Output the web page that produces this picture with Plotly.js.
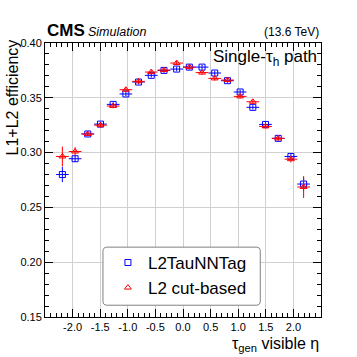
<!DOCTYPE html>
<html>
<head>
<meta charset="utf-8">
<script src="https://cdn.plot.ly/plotly-3.0.1.min.js"></script>
<style>
  body { margin: 0; background: #fff; }
  #plot { width: 357px; height: 357px; }
</style>
</head>
<body>
<div id="plot"></div>
<script>
// tau_gen visible eta bin centres
let eta = [-2.185, -1.955, -1.725, -1.495, -1.265, -1.035, -0.805, -0.575, -0.345, -0.115,
           0.115, 0.345, 0.575, 0.805, 1.035, 1.265, 1.495, 1.725, 1.955, 2.185];
let halfBin = 0.115;

let nnTagEff = [0.280, 0.2944, 0.317, 0.326, 0.344, 0.3535, 0.3644, 0.3705, 0.375, 0.3762,
                0.378, 0.378, 0.3726, 0.3656, 0.3553, 0.3413, 0.3257, 0.313, 0.2965, 0.2713];
let nnTagErr = [0.007, 0.003, 0.002, 0.002, 0.002, 0.002, 0.002, 0.002, 0.002, 0.002,
                0.002, 0.002, 0.002, 0.002, 0.002, 0.002, 0.002, 0.002, 0.003, 0.006];

let cutEff = [0.2965, 0.301, 0.317, 0.325, 0.3425, 0.3574, 0.365, 0.3735, 0.3753, 0.3817,
              0.378, 0.373, 0.3677, 0.3662, 0.3513, 0.3464, 0.3239, 0.313, 0.294, 0.2686];
let cutErr = [0.009, 0.004, 0.002, 0.002, 0.002, 0.002, 0.002, 0.002, 0.002, 0.002,
              0.002, 0.002, 0.002, 0.002, 0.002, 0.002, 0.002, 0.002, 0.003, 0.010];

let xTicks = [-2.0, -1.5, -1.0, -0.5, 0.0, 0.5, 1.0, 1.5, 2.0];
let xTickText = ["-2.0", "-1.5", "-1.0", "-0.5", "0.0", "0.5", "1.0", "1.5", "2.0"];

let font = "Liberation Sans, Arial, Helvetica, sans-serif";

function series(name, y, err, color, symbol) {
    return {
        x: eta, y: y, name: name, type: "scatter", mode: "markers",
        marker: { symbol: symbol, size: 6, color: color, line: { color: color, width: 1 } },
        error_y: { type: "data", array: err, color: color, thickness: 1, width: 0 },
        error_x: { type: "constant", value: halfBin, color: color, thickness: 1, width: 0 }
    };
}

let traces = [
    series("L2TauNNTag", nnTagEff, nnTagErr, "#0000ff", "square-open"),
    series("L2 cut-based", cutEff, cutErr, "#ff0000", "triangle-up-open")
];

let axisCommon = {
    showline: true, linecolor: "#000", linewidth: 1, mirror: "allticks",
    ticks: "inside", ticklen: 8, tickcolor: "#000",
    showgrid: true, gridcolor: "#d0d0d0", gridwidth: 1, zeroline: false,
    tickfont: { family: font, size: 11, color: "#000" }
};

let layout = {
    width: 357, height: 357,
    margin: { l: 45, r: 36, t: 43, b: 40 },
    paper_bgcolor: "#fff", plot_bgcolor: "#fff",
    showlegend: true,
    legend: {
        x: 0.228, y: 0.263, xanchor: "left", yanchor: "top",
        bgcolor: "rgba(0,0,0,0)", borderwidth: 0,
        font: { family: font, size: 17, color: "#000" }
    },
    xaxis: Object.assign({}, axisCommon, {
        range: [-2.5, 2.5], tickmode: "array", tickvals: xTicks, ticktext: xTickText,
        minor: { tickmode: "linear", tick0: 0, dtick: 0.1, ticks: "inside", ticklen: 4, tickcolor: "#000", showgrid: false }
    }),
    yaxis: Object.assign({}, axisCommon, {
        range: [0.15, 0.40], tickmode: "linear", tick0: 0.15, dtick: 0.05, tickformat: ".2f",
        minor: { tickmode: "linear", dtick: 0.01, ticks: "inside", ticklen: 4, tickcolor: "#000", showgrid: false }
    }),
    shapes: [{
        type: "path", xref: "paper", yref: "paper",
        path: "M 0.225 0.255 L 0.765 0.255 Q 0.78 0.255 0.78 0.24 L 0.78 0.058 Q 0.78 0.043 0.765 0.043 " +
              "L 0.225 0.043 Q 0.21 0.043 0.21 0.058 L 0.21 0.24 Q 0.21 0.255 0.225 0.255 Z",
        line: { color: "#808080", width: 1 }, fillcolor: "#fff", layer: "above"
    }],
    annotations: [
        { text: "<b>CMS</b>", xref: "paper", yref: "paper", x: 0, y: 1, xanchor: "left", yanchor: "bottom",
          yshift: 1, showarrow: false, font: { family: font, size: 17, color: "#000" } },
        { text: "<i>Simulation</i>", xref: "paper", yref: "paper", x: 0.148, y: 1, xanchor: "left", yanchor: "bottom",
          yshift: 2, showarrow: false, font: { family: font, size: 12.5, color: "#000" } },
        { text: "(13.6 TeV)", xref: "paper", yref: "paper", x: 1, y: 1, xanchor: "right", yanchor: "bottom",
          yshift: 2, showarrow: false, font: { family: font, size: 12, color: "#000" } },
        { text: "Single-τ<sub>h</sub> path", xref: "paper", yref: "paper", x: 0.992, y: 0.946,
          xanchor: "right", yanchor: "middle", showarrow: false, font: { family: font, size: 17, color: "#000" } },
        { text: "L1+L2 efficiency", xref: "paper", yref: "paper", x: -0.116, y: 1.02, textangle: -90,
          xanchor: "center", yanchor: "top", showarrow: false, font: { family: font, size: 16, color: "#000" } },
        { text: "τ<sub>gen</sub> visible η", xref: "paper", yref: "paper", x: 1, y: -0.06,
          xanchor: "right", yanchor: "top", showarrow: false, font: { family: font, size: 16, color: "#000" } }
    ]
};

Plotly.newPlot("plot", traces, layout, { displayModeBar: false, staticPlot: true });
</script>
</body>
</html>
